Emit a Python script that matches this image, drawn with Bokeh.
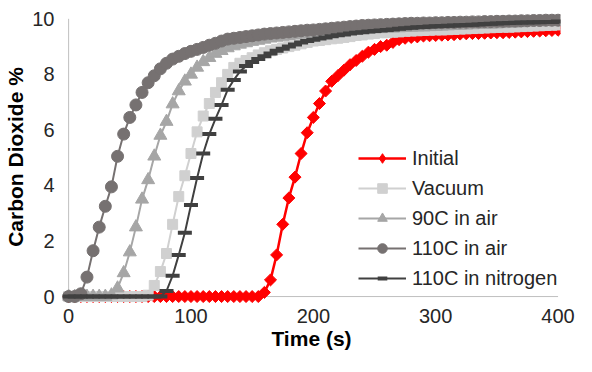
import numpy as np
from bokeh.plotting import figure
from bokeh.models import FixedTicker, Legend, LegendItem
from bokeh.embed import file_html
from bokeh.resources import INLINE

# ---- data (time step 5 s) ----
time_s = list(range(0, 405, 5))

initial = [0]*32 + [
    0.15, 0.6, 1.5, 2.6, 3.55, 4.3, 5.15, 5.9, 6.45, 6.95,
    7.4, 7.75, 7.95, 8.15, 8.35, 8.5, 8.65, 8.8, 8.9, 9.0,
    9.05, 9.15, 9.25, 9.3, 9.33, 9.35, 9.38, 9.39, 9.4, 9.41,
    9.42, 9.43, 9.45, 9.46, 9.47, 9.47, 9.48, 9.49, 9.5, 9.5,
    9.51, 9.52, 9.53, 9.54, 9.55, 9.56, 9.57, 9.58, 9.59]

vacuum = [0]*13 + [
    0.05, 0.4, 0.9, 1.55, 2.6, 3.6, 4.35, 5.15, 5.93, 6.5,
    6.95, 7.35, 7.7, 8.0, 8.25, 8.4, 8.5, 8.6, 8.7, 8.78,
    8.85, 8.9, 8.95, 9.0, 9.05, 9.1, 9.15, 9.2, 9.22, 9.25,
    9.28, 9.3, 9.33, 9.36, 9.4, 9.42, 9.45, 9.47, 9.5, 9.5,
    9.52, 9.53, 9.55, 9.56, 9.57, 9.58, 9.59, 9.6, 9.6, 9.61,
    9.62, 9.63, 9.64, 9.65, 9.66, 9.67, 9.68, 9.69, 9.7, 9.7,
    9.71, 9.72, 9.73, 9.74, 9.75, 9.76, 9.77, 9.78]

air90 = [0]*7 + [
    0.05, 0.3, 0.85, 1.6, 2.5, 3.5, 4.2, 5.05, 5.8, 6.3,
    6.93, 7.4, 7.75, 8.0, 8.25, 8.45, 8.6, 8.75, 8.85, 8.95,
    9.02, 9.08, 9.13, 9.18, 9.22, 9.26, 9.3, 9.33, 9.36, 9.39,
    9.42, 9.44, 9.46, 9.48, 9.5, 9.52, 9.54, 9.56, 9.57, 9.58,
    9.6, 9.61, 9.62, 9.63, 9.64, 9.65, 9.66, 9.67, 9.68, 9.69,
    9.7, 9.7, 9.71, 9.72, 9.73, 9.74, 9.75, 9.76, 9.77, 9.78,
    9.79, 9.8, 9.8, 9.81, 9.82, 9.83, 9.84, 9.85]

air110 = [0, 0, 0.1, 0.7, 1.65, 2.5, 3.25, 3.95, 5.05, 5.85,
    6.45, 6.9, 7.35, 7.7, 7.95, 8.2, 8.4, 8.55, 8.65, 8.75,
    8.83, 8.9, 8.97, 9.05, 9.12, 9.2, 9.27, 9.3, 9.33, 9.36,
    9.39, 9.42, 9.45, 9.47, 9.49, 9.51, 9.53, 9.55, 9.57, 9.59,
    9.6, 9.62, 9.64, 9.66, 9.68, 9.7, 9.72, 9.74, 9.76, 9.77,
    9.78, 9.79, 9.8, 9.81, 9.82, 9.83, 9.84, 9.84, 9.85, 9.85,
    9.86, 9.86, 9.87, 9.87, 9.88, 9.88, 9.89, 9.89, 9.9, 9.9,
    9.91, 9.91, 9.92, 9.92, 9.93, 9.93, 9.94, 9.94, 9.95, 9.95,
    9.95]

nitrogen110 = [0]*16 + [
    0.2, 0.75, 1.5, 2.3, 3.3, 4.27, 5.15, 5.85, 6.4, 6.9,
    7.45, 7.8, 8.1, 8.3, 8.45, 8.55, 8.65, 8.75, 8.85, 8.92,
    9.0, 9.08, 9.15, 9.2, 9.25, 9.29, 9.33, 9.37, 9.41, 9.44,
    9.47, 9.5, 9.52, 9.54, 9.56, 9.58, 9.6, 9.62, 9.64, 9.66,
    9.68, 9.7, 9.71, 9.72, 9.73, 9.74, 9.75, 9.76, 9.77, 9.78,
    9.79, 9.8, 9.81, 9.82, 9.83, 9.84, 9.85, 9.86, 9.87, 9.87,
    9.88, 9.88, 9.89, 9.89, 9.9]

series_names = ["Initial", "Vacuum", "90C in air", "110C in air", "110C in nitrogen"]
x_ticks = [0, 100, 200, 300, 400]
y_ticks = [0, 2, 4, 6, 8, 10]

FONT = "Liberation Sans"

p = figure(width=576, height=356, output_backend="svg", toolbar_location=None,
           x_range=(-5, 402), y_range=(-0.25, 10.3),
           min_border_left=62, min_border_right=16, min_border_top=10, min_border_bottom=53)
p.outline_line_color = None
p.grid.visible = False
p.background_fill_color = "white"
p.border_fill_color = "white"

for ax in (p.xaxis[0], p.yaxis[0]):
    ax.axis_line_color = None
    ax.major_tick_line_color = None
    ax.minor_tick_line_color = None
    ax.major_tick_out = 0
    ax.major_tick_in = 0
    ax.major_label_text_font = FONT
    ax.major_label_text_font_size = "20px"
    ax.major_label_text_color = "#262626"
    ax.axis_label_text_font = FONT
    ax.axis_label_text_font_size = "21px"
    ax.axis_label_text_font_style = "bold"
    ax.axis_label_text_color = "#000000"

p.xaxis.ticker = FixedTicker(ticks=x_ticks)
p.yaxis.ticker = FixedTicker(ticks=y_ticks)
p.xaxis.axis_label = "Time (s)"
p.yaxis.axis_label = "Carbon Dioxide %"
p.xaxis.major_label_standoff = 5
p.yaxis.major_label_standoff = 8
p.xaxis.axis_label_standoff = 1
p.yaxis.axis_label_standoff = 2

# axis lines at the data origin
p.segment(x0=[x_ticks[0]], y0=[y_ticks[0]], x1=[x_ticks[-1]], y1=[y_ticks[0]],
          line_color="#bfbfbf", line_width=1)
p.segment(x0=[x_ticks[0]], y0=[y_ticks[0]], x1=[x_ticks[0]], y1=[y_ticks[-1]],
          line_color="#bfbfbf", line_width=1)

styles = [
    (initial, "#ff0000", "square", 8.5, 0.785, 2.5),
    (vacuum, "#d0d0d0", "square", 10, 0, 2),
    (air90, "#a6a6a6", "triangle", 13, 0, 2),
    (air110, "#767171", "circle", 12, 0, 2),
    (nitrogen110, "#404040", "dash", 14, 0, 2),
]

items = []
for name, (vals, color, marker, size, angle, lw) in zip(series_names, styles):
    lr = p.line(time_s, vals, line_color=color, line_width=lw)
    if marker == "dash":
        sr = p.scatter(time_s, vals, marker="dash", size=size, line_color=color,
                       line_width=4)
        leg = [lr, sr]
    else:
        sr = p.scatter(time_s, vals, marker=marker, size=size, angle=angle,
                       fill_color=color, line_color=color, line_width=1)
        if angle:
            # diamond used for the legend key; its single point (the first
            # sample of the series) sits under the other series at the origin
            proxy = p.scatter(x=time_s[:1], y=vals[:1], marker="diamond", size=12,
                              fill_color=color, line_color=color)
            leg = [lr, proxy]
        else:
            leg = [lr, sr]
    items.append(LegendItem(label=name, renderers=leg))

legend = Legend(items=items, location=(296, 13),
                label_text_font=FONT, label_text_font_size="20px",
                label_text_color="#262626",
                glyph_width=48, glyph_height=24, label_height=24,
                spacing=6, padding=0, margin=0, label_standoff=6,
                border_line_color=None, background_fill_alpha=0)
p.add_layout(legend)

open("out.html", "w").write(file_html(p, INLINE))
